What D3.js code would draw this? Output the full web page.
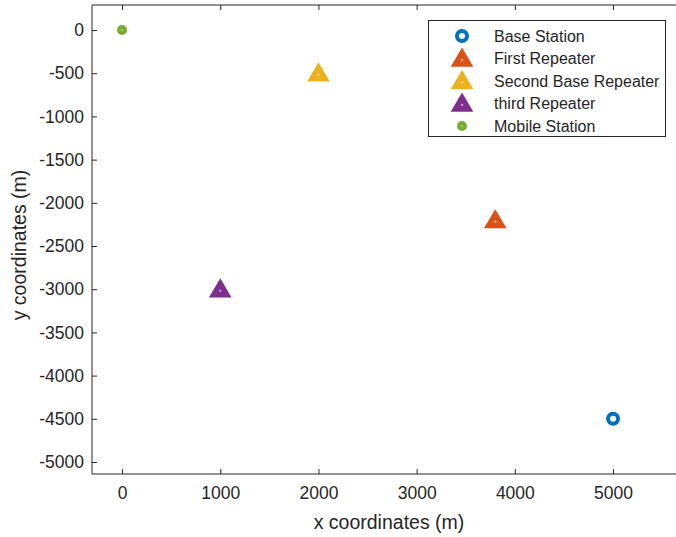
<!DOCTYPE html>
<html>
<head>
<meta charset="utf-8">
<script src="https://cdn.jsdelivr.net/npm/d3@7"></script>
<style>
  html, body { margin: 0; padding: 0; background: #fff; }
  svg text { font-family: "Liberation Sans", Arial, sans-serif; fill: #262626; }
</style>
</head>
<body>
<svg id="chart" width="676" height="537"></svg>
<script>
// Station positions (metres)
const names = ["Base Station", "First Repeater", "Second Base Repeater", "third Repeater", "Mobile Station"];
const xs = [5000, 3800, 2000, 1000, 0];
const ys = [-4500, -2200, -500, -3000, 0];
const shapes = ["ring", "triangle", "triangle", "triangle", "asterisk"];
const colors = ["#0072BD", "#D95319", "#EDB120", "#7E2F8E", "#77AC30"];

const xTicks = [0, 1000, 2000, 3000, 4000, 5000];
const yTicks = [0, -500, -1000, -1500, -2000, -2500, -3000, -3500, -4000, -4500, -5000];

(function () {
const svg = d3.select("#chart");
const plotLeft = 92, plotRight = 676, plotTop = 5, plotBottom = 474;
const fmt = d => String(d);   // plain hyphen-minus for negatives

const x = d3.scaleLinear().domain([-306, 5641]).range([plotLeft, plotRight]);
const y = d3.scaleLinear().domain([290, -5139]).range([plotTop, plotBottom]);

// Axes box lines
const axisColor = "#262626";
svg.append("line").attr("x1", plotLeft).attr("x2", plotRight).attr("y1", plotBottom).attr("y2", plotBottom)
  .attr("stroke", axisColor).attr("stroke-width", 1);
svg.append("line").attr("x1", plotLeft).attr("x2", plotRight).attr("y1", plotTop).attr("y2", plotTop)
  .attr("stroke", axisColor).attr("stroke-width", 1);
svg.append("line").attr("x1", plotLeft).attr("x2", plotLeft).attr("y1", plotTop).attr("y2", plotBottom)
  .attr("stroke", axisColor).attr("stroke-width", 1);

// Bottom axis (ticks point inwards)
const xAxis = d3.axisBottom(x).tickValues(xTicks).tickSize(-5).tickPadding(13).tickFormat(fmt);
const gx = svg.append("g").attr("transform", `translate(0,${plotBottom})`).call(xAxis);
gx.select(".domain").remove();
gx.selectAll("line").attr("stroke", axisColor);
gx.selectAll("text").attr("font-size", 17.5).attr("fill", "#3a3a3a")
  .style("font-family", "'Liberation Sans', Arial, sans-serif");

// Top axis tick marks only
const gxt = svg.append("g").attr("transform", `translate(0,${plotTop})`)
  .call(d3.axisTop(x).tickValues(xTicks).tickSize(-5).tickFormat(""));
gxt.select(".domain").remove();
gxt.selectAll("line").attr("stroke", axisColor);

// Left axis
const yAxis = d3.axisLeft(y).tickValues(yTicks).tickSize(-5).tickPadding(8).tickFormat(fmt);
const gy = svg.append("g").attr("transform", `translate(${plotLeft},0)`).call(yAxis);
gy.select(".domain").remove();
gy.selectAll("line").attr("stroke", axisColor);
gy.selectAll("text").attr("font-size", 17.5).attr("fill", "#3a3a3a")
  .style("font-family", "'Liberation Sans', Arial, sans-serif");

// Axis titles
svg.append("text").attr("x", 389).attr("y", 529)
  .attr("text-anchor", "middle").attr("font-size", 19.5).attr("fill", "#3a3a3a").text("x coordinates (m)");
svg.append("text").attr("transform", `translate(26,245) rotate(-90)`)
  .attr("text-anchor", "middle").attr("font-size", 19.5).attr("fill", "#3a3a3a").text("y coordinates (m)");

// Marker drawing
function drawMarker(g, shape, color) {
  if (shape === "ring") {
    g.append("circle").attr("r", 5).attr("fill", "none").attr("stroke", color).attr("stroke-width", 4);
  } else if (shape === "triangle") {
    g.append("path").attr("d", "M0,-9.5 L10,7.5 L-10,7.5 Z").attr("fill", color)
      .attr("stroke", color).attr("stroke-width", 1.5).attr("stroke-linejoin", "miter");
    g.append("circle").attr("cy", 1.5).attr("r", 1.3).attr("fill", "#fff").attr("opacity", 0.45);
  } else {
    g.append("circle").attr("r", 5).attr("fill", color);
    g.append("circle").attr("r", 1.2).attr("fill", "#fff").attr("opacity", 0.35);
  }
}

// Data markers
names.forEach((n, i) => {
  const g = svg.append("g").attr("transform", `translate(${x(xs[i])},${y(ys[i])})`);
  drawMarker(g, shapes[i], colors[i]);
});

// Legend
const lg = svg.append("g");
lg.append("rect").attr("x", 428.5).attr("y", 20.5).attr("width", 237).attr("height", 116)
  .attr("fill", "#fff").attr("stroke", axisColor).attr("stroke-width", 1);
names.forEach((n, i) => {
  const yy = 36 + i * 22.5;
  const g = lg.append("g").attr("transform", `translate(462,${yy})`);
  drawMarker(g, shapes[i], colors[i]);
  lg.append("text").attr("x", 494).attr("y", yy + 5.5).attr("font-size", 16).attr("fill", "#3a3a3a").text(n);
});
})();
</script>
</body>
</html>
